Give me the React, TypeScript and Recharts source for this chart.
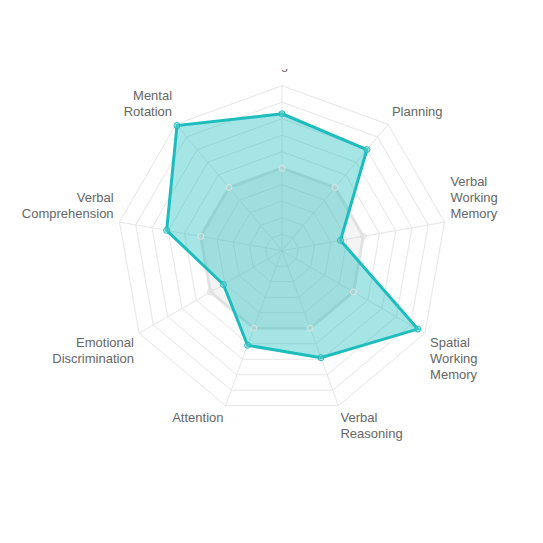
import React from 'react';
import { RadarChart, Radar, PolarGrid, PolarAngleAxis, PolarRadiusAxis } from 'recharts';

const domains = [
  'Logic',
  'Planning',
  'Verbal Working Memory',
  'Spatial Working Memory',
  'Verbal Reasoning',
  'Attention',
  'Emotional Discrimination',
  'Verbal Comprehension',
  'Mental Rotation',
];
const scores = [83, 80, 36, 95, 69, 61, 41, 71, 99];
const average = [50, 50, 50, 50, 50, 50, 50, 50, 50];

const data = domains.map((name, i) => ({ name, score: scores[i], average: average[i] }));

const CX = 282;
const CY = 181.7;
const R = 165;

const AxisLabel = (props: any) => {
  const { payload } = props;
  const a = payload.coordinate;
  const theta = (((90 - a) % 360) + 360) % 360;
  const lines: string[] = String(payload.value).split(' ');
  const r = R + 6;
  const rad = (a * Math.PI) / 180;
  const px = CX + r * Math.cos(rad);
  const py = CY - r * Math.sin(rad);
  const lh = 16;
  const h = lines.length * lh;
  let anchor = 'middle';
  if (Math.abs(theta) < 0.5 || Math.abs(theta - 180) < 0.5) anchor = 'middle';
  else if (theta < 180) anchor = 'start';
  else anchor = 'end';
  let top = py - 2;
  if (theta > 270 || theta < 90) top = py - h;
  // top label is cut by the chart's upper edge, like the original
  if (Math.abs(theta) < 0.5) top = -0.4 - 12.5 - (lines.length - 1) * lh;
  return (
    <text textAnchor={anchor} fill="#666" fontSize={13} fontFamily="'Liberation Sans', Arial, sans-serif">
      {lines.map((l, i) => (
        <tspan key={i} x={px} y={top + i * lh + 12.5}>
          {l}
        </tspan>
      ))}
    </text>
  );
};

export default function App() {
  return (
    <div style={{ position: 'absolute', left: 0, top: 0, width: 543, height: 543, background: '#fff' }}>
      <div style={{ position: 'absolute', left: 0, top: 69, width: 543, height: 474, overflow: 'hidden' }}>
        <RadarChart width={543} height={474} data={data} cx={CX} cy={CY} outerRadius={R}>
          <PolarGrid gridType="polygon" stroke="#e6e6e6" />
          <PolarRadiusAxis domain={[0, 100]} tickCount={11} tick={false} axisLine={false} />
          <PolarAngleAxis dataKey="name" tick={<AxisLabel />} tickLine={false} axisLine={false} />
          <Radar
            dataKey="average"
            stroke="#e2e2e2"
            strokeWidth={3}
            fill="rgb(200,200,200)"
            fillOpacity={0.2}
            dot={{ r: 3, fill: '#e8e8e8', stroke: '#e2e2e2', strokeWidth: 1 }}
            isAnimationActive={false}
          />
          <Radar
            dataKey="score"
            stroke="#1dbdbd"
            strokeWidth={3}
            fill="#1dbdbd"
            fillOpacity={0.4}
            dot={{ r: 3, fill: '#6fd3d3', stroke: '#1dbdbd', strokeWidth: 1 }}
            isAnimationActive={false}
          />
        </RadarChart>
      </div>
    </div>
  );
}
